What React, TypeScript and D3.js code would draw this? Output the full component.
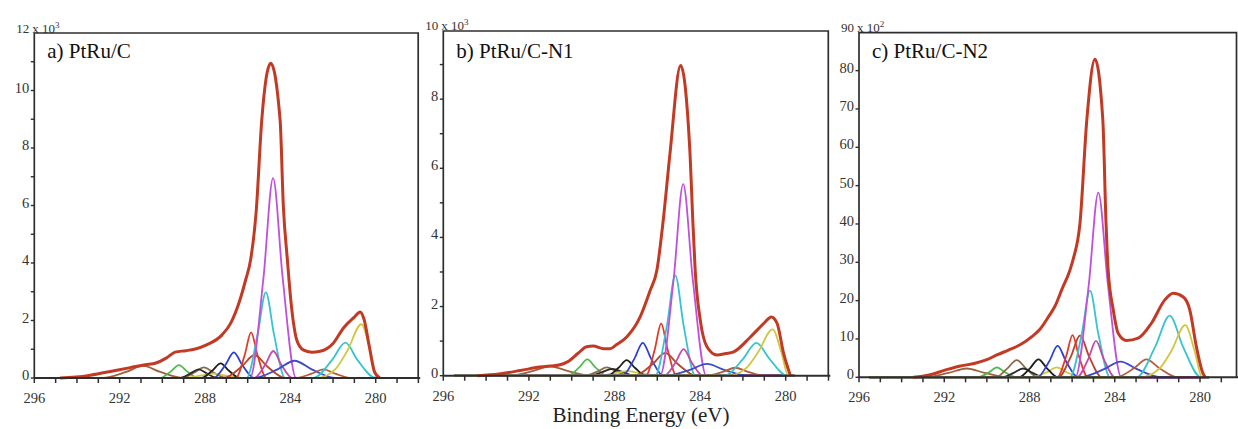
import React from 'react';
import * as d3 from 'd3';

type Pt = [number, number];

// ---------- DATA ----------
const xTickLabels = [296, 292, 288, 284, 280];
const panelTitles = ['a) PtRu/C', 'b) PtRu/C-N1', 'c) PtRu/C-N2'];
const yMaxValues = [12, 10, 90];
const yExponents = ['3', '3', '2'];
const yMajorTicksA = [0, 2, 4, 6, 8, 10];
const yMajorTicksB = [0, 2, 4, 6, 8];
const yMajorTicksC = [0, 10, 20, 30, 40, 50, 60, 70, 80];
const yMinorTicksA = [1, 3, 5, 7, 9, 11];
const yMinorTicksB = [1, 3, 5, 7, 9];
const yMinorTicksC: number[] = [];
const xAxisTitle = 'Binding Energy (eV)';

// envelopes (binding energy eV, intensity in the axis units)
const envelopeA: Pt[] = [
  [294.8, 0], [293.5, 0.08], [292.5, 0.22], [291.5, 0.36], [290.8, 0.46], [290.3, 0.52], [289.8, 0.7],
  [289.4, 0.9], [288.9, 0.95], [288.5, 1.0], [287.9, 1.16], [287.2, 1.5], [286.8, 1.9], [286.36, 2.72],
  [286.1, 3.4], [285.86, 4.12], [285.6, 5.8], [285.34, 8.97], [284.92, 10.95], [284.48, 8.97], [284.33, 6.0],
  [284.14, 4.12], [283.98, 2.72], [283.85, 1.9], [283.7, 1.32], [283.4, 0.98], [283.0, 0.9], [282.6, 0.93],
  [282.0, 1.2], [281.5, 1.75], [281.0, 2.12], [280.73, 2.3], [280.55, 2.05], [280.3, 1.1], [280.05, 0.2], [279.8, 0],
];
const envelopeB: Pt[] = [
  [294.4, 0], [293.4, 0.05], [292.4, 0.15], [291.5, 0.25], [290.6, 0.31], [290.2, 0.4], [289.7, 0.65],
  [289.3, 0.84], [289.0, 0.86], [288.5, 0.78], [288.2, 0.78], [287.9, 0.9], [287.43, 1.12], [286.8, 1.7],
  [286.33, 2.47], [286.02, 3.05], [285.72, 4.51], [285.41, 6.41], [284.91, 8.97], [284.47, 6.41], [284.35, 4.61],
  [284.23, 3.05], [283.99, 1.6], [283.68, 0.84], [283.21, 0.6], [282.8, 0.64], [282.43, 0.69], [281.65, 1.12],
  [281.03, 1.51], [280.67, 1.7], [280.4, 1.51], [280.1, 0.65], [279.78, 0],
];
const envelopeC: Pt[] = [
  [293.45, 0], [292.7, 0.6], [292.0, 1.8], [291.3, 2.9], [290.55, 3.65], [290.0, 4.6], [289.5, 5.9],
  [288.99, 7.1], [288.4, 8.6], [287.89, 10.6], [287.5, 12.6], [287.11, 15.8], [286.8, 18.6], [286.49, 22.8],
  [286.1, 28.0], [285.94, 31.0], [285.63, 40.3], [285.31, 67.2], [284.93, 83.0], [284.56, 67.2], [284.41, 40.3],
  [284.31, 28.0], [284.07, 17.6], [283.84, 11.5], [283.45, 9.6], [282.9, 10.2], [282.28, 14.1], [281.65, 20.2],
  [281.26, 21.9], [280.8, 21.0], [280.48, 17.6], [280.17, 8.0], [279.86, 1.0], [279.75, 0],
];

// fitted components, same order in every panel
const componentsA: Pt[][] = [
  [[292.8, 0], [291.7, 0.21], [290.9, 0.42], [290.1, 0.21], [289.0, 0]],
  [[290.12, 0], [289.6, 0.23], [289.22, 0.45], [288.84, 0.23], [288.32, 0]],
  [[289.13, 0], [288.5, 0.19], [288.05, 0.37], [287.6, 0.19], [286.97, 0]],
  [[289.2, 0], [288.7, 0.15], [288.3, 0.3], [287.9, 0.15], [287.4, 0]],
  [[289.0, 0], [288.2, 0.08], [287.6, 0.15], [287.0, 0.08], [286.2, 0]],
  [[288.17, 0], [287.65, 0.26], [287.27, 0.51], [286.89, 0.26], [286.37, 0]],
  [[287.61, 0], [287.05, 0.45], [286.65, 0.89], [286.25, 0.45], [285.69, 0]],
  [[286.56, 0], [286.14, 0.8], [285.84, 1.59], [285.54, 0.8], [285.12, 0]],
  [[287.12, 0], [286.28, 0.4], [285.68, 0.8], [285.08, 0.4], [284.24, 0]],
  [[286.05, 0], [285.54, 1.49], [285.15, 2.98], [284.76, 1.49], [284.25, 0]],
  [[285.7, 0], [285.17, 0.47], [284.8, 0.94], [284.43, 0.47], [283.9, 0]],
  [[285.89, 0], [285.26, 3.48], [284.81, 6.95], [284.36, 3.48], [283.73, 0]],
  [[285.72, 0], [284.6, 0.3], [283.8, 0.6], [283.0, 0.3], [281.88, 0]],
  [[283.77, 0], [283.0, 0.15], [282.45, 0.3], [281.9, 0.15], [281.13, 0]],
  [[282.92, 0], [282.05, 0.62], [281.42, 1.23], [280.85, 0.62], [280.0, 0]],
  [[282.75, 0], [281.9, 0.3], [281.34, 0.93], [280.67, 1.87], [280.25, 0.93], [279.92, 0]],
];
const componentsB: Pt[][] = [
  [[292.9, 0], [291.8, 0.14], [291.0, 0.27], [290.2, 0.14], [289.1, 0]],
  [[290.17, 0], [289.65, 0.24], [289.27, 0.47], [288.89, 0.24], [288.37, 0]],
  [[289.4, 0], [288.8, 0.12], [288.36, 0.24], [287.9, 0.12], [287.3, 0]],
  [[289.1, 0], [288.6, 0.1], [288.1, 0.2], [287.6, 0.1], [287.1, 0]],
  [[288.8, 0], [288.0, 0.07], [287.4, 0.13], [286.8, 0.07], [286.0, 0]],
  [[288.33, 0], [287.81, 0.23], [287.43, 0.45], [287.05, 0.23], [286.53, 0]],
  [[287.64, 0], [287.08, 0.48], [286.68, 0.95], [286.28, 0.48], [285.72, 0]],
  [[286.54, 0], [286.12, 0.76], [285.82, 1.51], [285.52, 0.76], [285.1, 0]],
  [[287.07, 0], [286.23, 0.33], [285.63, 0.66], [285.03, 0.33], [284.19, 0]],
  [[286.1, 0], [285.55, 1.45], [285.16, 2.9], [284.77, 1.45], [284.22, 0]],
  [[285.67, 0], [285.14, 0.39], [284.77, 0.77], [284.4, 0.39], [283.87, 0]],
  [[285.87, 0], [285.24, 2.77], [284.79, 5.54], [284.34, 2.77], [283.71, 0]],
  [[285.6, 0], [284.48, 0.17], [283.68, 0.34], [282.88, 0.17], [281.76, 0]],
  [[283.7, 0], [282.9, 0.12], [282.36, 0.23], [281.8, 0.12], [281.0, 0]],
  [[282.87, 0], [282.0, 0.48], [281.37, 0.95], [280.75, 0.48], [279.92, 0]],
  [[282.7, 0], [281.85, 0.22], [281.3, 0.67], [280.61, 1.34], [280.2, 0.67], [279.88, 0]],
];
const componentsC: Pt[][] = [
  [[292.9, 0], [291.8, 1.15], [290.95, 2.3], [290.1, 1.15], [289.0, 0]],
  [[290.45, 0], [289.9, 1.3], [289.53, 2.6], [289.15, 1.3], [288.6, 0]],
  [[289.6, 0], [289.05, 2.25], [288.6, 4.5], [288.15, 2.25], [287.6, 0]],
  [[289.3, 0], [288.75, 1.15], [288.3, 2.3], [287.85, 1.15], [287.3, 0]],
  [[287.9, 0], [287.2, 1.3], [286.72, 2.6], [286.25, 1.3], [285.5, 0]],
  [[288.5, 0], [287.98, 2.35], [287.58, 4.7], [287.18, 2.35], [286.66, 0]],
  [[287.64, 0], [287.08, 4.1], [286.68, 8.2], [286.28, 4.1], [285.72, 0]],
  [[286.7, 0], [286.28, 5.5], [285.98, 11.0], [285.68, 5.5], [285.26, 0]],
  [[286.65, 0], [286.06, 5.4], [285.63, 10.9], [285.2, 5.4], [284.6, 0]],
  [[286.1, 0], [285.55, 11.3], [285.16, 22.6], [284.77, 11.3], [284.22, 0]],
  [[285.78, 0], [285.25, 4.7], [284.88, 9.5], [284.51, 4.7], [283.98, 0]],
  [[285.85, 0], [285.22, 24.1], [284.77, 48.2], [284.32, 24.1], [283.69, 0]],
  [[285.65, 0], [284.53, 2.05], [283.73, 4.1], [282.93, 2.05], [281.81, 0]],
  [[283.95, 0], [283.1, 2.35], [282.51, 4.7], [281.9, 2.35], [281.05, 0]],
  [[282.98, 0], [282.1, 8.0], [281.42, 16.1], [280.8, 8.0], [279.95, 0]],
  [[282.8, 0], [281.9, 2.3], [281.35, 6.8], [280.69, 13.6], [280.25, 6.8], [279.9, 0]],
];

// ---------- STYLE / LAYOUT ----------
const componentColors = [
  '#a0603c', '#4cba4c', '#8c6a48', '#2a2a2a', '#d2c640', '#1e1e1e', '#2b3fd6', '#e23a2a',
  '#b8442c', '#38c4cc', '#c44aa8', '#c050dc', '#3a4cc8', '#b55a3c', '#38c4cc', '#d2c640',
];
const envelopeColor = '#c23a24';
const axisColor = '#2e2e2e';
const FONT = "'Liberation Serif', 'Times New Roman', serif";

const layouts = [
  { x296: 34.3, x280: 375.7, right: 418.2, y0: 378, yMaxPx: 33, top: 33 },
  { x296: 443.3, x280: 785.7, right: 828.3, y0: 375.7, yMaxPx: 30, top: 31 },
  { x296: 859, x280: 1200, right: 1236.5, y0: 377.3, yMaxPx: 32.3, top: 32.7 },
];

const envelopes = [envelopeA, envelopeB, envelopeC];
const componentSets = [componentsA, componentsB, componentsC];
const majorTicks = [yMajorTicksA, yMajorTicksB, yMajorTicksC];
const minorTicks = [yMinorTicksA, yMinorTicksB, yMinorTicksC];

function Panel({ i }: { i: number }) {
  const L = layouts[i];
  const xs = d3.scaleLinear().domain([296, 280]).range([L.x296, L.x280]);
  const ys = d3.scaleLinear().domain([0, yMaxValues[i]]).range([L.y0, L.yMaxPx]);
  const line = d3
    .line<Pt>()
    .x((d) => xs(d[0]))
    .y((d) => ys(d[1]))
    .curve(d3.curveMonotoneX);
  const xTicksAll = d3.range(296, 277.5, -1).filter((v) => xs(v) <= L.right + 0.5);
  const padStart: Pt = [295.5, 0];
  const padEnd: Pt = [279.6, 0];

  return (
    <g>
      {componentSets[i].map((pts, k) => (
        <path
          key={k}
          d={line([padStart, ...pts, padEnd]) || ''}
          fill="none"
          stroke={componentColors[k]}
          strokeWidth={1.8}
          strokeLinejoin="round"
        />
      ))}
      <path d={line(envelopes[i]) || ''} fill="none" stroke={envelopeColor} strokeWidth={3} strokeLinejoin="round" />

      <path
        d={`M${L.x296},${L.y0} V${L.top} H${L.right} V${L.y0}`}
        fill="none"
        stroke={axisColor}
        strokeWidth={1.7}
      />
      <line x1={L.x296} x2={L.right + 2} y1={L.y0} y2={L.y0} stroke={axisColor} strokeWidth={2} />

      {xTicksAll.map((v) => (
        <line key={v} x1={xs(v)} x2={xs(v)} y1={L.y0} y2={L.y0 + 5} stroke={axisColor} strokeWidth={1.5} />
      ))}
      {xTickLabels.map((v) => (
        <text key={v} x={xs(v)} y={L.y0 + 25} textAnchor="middle" fontFamily={FONT} fontSize={14.5} fill="#333">
          {v}
        </text>
      ))}

      {[...majorTicks[i], ...minorTicks[i]].map((v) => (
        <line key={v} x1={L.x296 - 3.5} x2={L.x296} y1={ys(v)} y2={ys(v)} stroke={axisColor} strokeWidth={1.4} />
      ))}
      {majorTicks[i].map((v) => (
        <text key={v} x={L.x296 - 5} y={ys(v) + 2} textAnchor="end" fontFamily={FONT} fontSize={14.5} fill="#333">
          {v}
        </text>
      ))}
      <text x={L.x296 - 5} y={ys(yMaxValues[i]) - 0.5} fontFamily={FONT} fontSize={13} fill="#333" textAnchor="end">
        {yMaxValues[i]}
      </text>
      <text x={L.x296 - 2} y={ys(yMaxValues[i]) - 0.5} fontFamily={FONT} fontSize={13} fill="#333">
        {' x 10'}
        <tspan fontSize={9} dy={-5}>
          {yExponents[i]}
        </tspan>
      </text>

      <text x={L.x296 + 13} y={57.5} fontFamily={FONT} fontSize={21} fill="#111">
        {panelTitles[i]}
      </text>
    </g>
  );
}

export default function App() {
  return (
    <svg
      width={1238}
      height={429}
      viewBox="0 0 1238 429"
      style={{ position: 'absolute', left: 0, top: 0, background: '#fff' }}
    >
      <rect x={0} y={0} width={1238} height={429} fill="#fff" />
      {[0, 1, 2].map((i) => (
        <Panel key={i} i={i} />
      ))}
      <text x={641} y={422} textAnchor="middle" fontFamily={FONT} fontSize={21} fill="#222">
        {xAxisTitle}
      </text>
    </svg>
  );
}
